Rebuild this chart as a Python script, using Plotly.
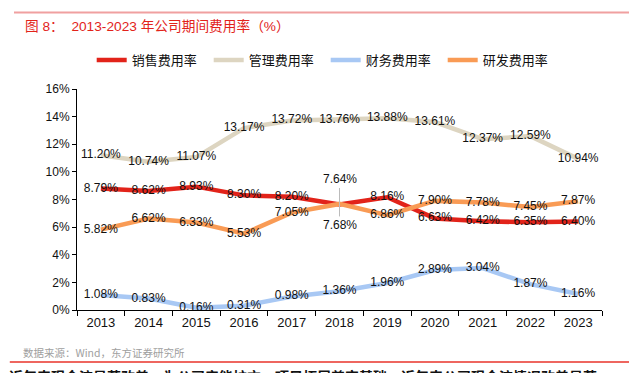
import plotly.graph_objects as go

years = ["2013", "2014", "2015", "2016", "2017", "2018", "2019", "2020", "2021", "2022", "2023"]
sales = [8.79, 8.62, 8.93, 8.30, 8.20, 7.64, 8.16, 6.63, 6.42, 6.35, 6.40]
admin = [11.20, 10.74, 11.07, 13.17, 13.72, 13.76, 13.88, 13.61, 12.37, 12.59, 10.94]
finance = [1.08, 0.83, 0.16, 0.31, 0.98, 1.36, 1.96, 2.89, 3.04, 1.87, 1.16]
rnd = [5.82, 6.62, 6.33, 5.53, 7.05, 7.68, 6.86, 7.90, 7.78, 7.45, 7.87]

names = ["销售费用率", "管理费用率", "财务费用率", "研发费用率"]
colors = ["#E2231A", "#DDD5C1", "#A8C8F4", "#F99B55"]
series = [sales, admin, finance, rnd]

CJK = "Liberation Sans, Noto Sans CJK SC"
fig = go.Figure()

# labels placed with leader lines at the 2018 crossing
special = {0: (5, -25), 3: (5, 21)}

for i, (nm, col, vals) in enumerate(zip(names, colors, series)):
    texts = [f"{v:.2f}%" for v in vals]
    if i in special:
        idx, _ = special[i]
        texts[idx] = ""
    fig.add_trace(go.Scatter(
        x=years, y=vals, name=nm, mode="lines+text",
        line=dict(color=col, width=4.5),
        text=texts, textposition="middle center",
        textfont=dict(size=12, color="#111111", family=CJK),
        cliponaxis=False,
    ))

for i, (idx, ay) in special.items():
    v = series[i][idx]
    fig.add_annotation(
        x=idx, y=v, xref="x", yref="y", text=f"{v:.2f}%", showarrow=True, arrowhead=0,
        arrowwidth=1, arrowcolor="#BBBBBB", ax=0, ay=ay, standoff=0,
        font=dict(size=12, color="#111111", family=CJK),
    )

# the page body adds an 8px offset; margins compensate so the plot sits at x=77..602, y=89..310
PH = 221.0
def py(pix):
    return (310.0 - pix) / PH

fig.update_layout(
    width=637, height=373,
    margin=dict(l=69, r=43, t=81, b=71, autoexpand=False),
    paper_bgcolor="white", plot_bgcolor="white",
    font=dict(family=CJK, size=12, color="#111111"),
    showlegend=True,
    legend=dict(
        orientation="h", x=0.028, xanchor="left", y=py(60), yanchor="middle",
        font=dict(size=13, family="Noto Sans CJK SC", color="#111111"),
        entrywidth=72, entrywidthmode="pixels", itemwidth=30,
        bgcolor="rgba(0,0,0,0)", traceorder="normal",
    ),
    xaxis=dict(
        type="category", range=[-0.5, 10.5], showgrid=False,
        showline=True, linecolor="#000000", linewidth=1,
        ticks="outside", ticklen=5, tickcolor="#000000", tickson="boundaries",
        tickfont=dict(size=13, family="Liberation Sans", color="#111111"),
        fixedrange=True,
    ),
    yaxis=dict(
        range=[0, 16], dtick=2, tickformat="d", ticksuffix="%", showgrid=False,
        showline=True, linecolor="#000000", linewidth=1, zeroline=False,
        ticks="outside", ticklen=4, tickcolor="#000000",
        tickfont=dict(size=12, family="Liberation Sans", color="#111111"),
        fixedrange=True,
    ),
    shapes=[
        dict(type="line", xref="paper", yref="paper", x0=-0.12, x1=1.07,
             y0=py(12.5), y1=py(12.5),
             line=dict(color="#F0A0A0", width=2)),
        dict(type="line", xref="paper", yref="paper", x0=-0.128, x1=1.053,
             y0=py(362), y1=py(362),
             line=dict(color="#E8332A", width=1.5)),
    ],
)

fig.add_annotation(
    xref="paper", yref="paper", x=-0.103, y=py(26), xanchor="left", yanchor="middle",
    text="图 8：  2013-2023 年公司期间费用率（%）", showarrow=False,
    font=dict(size=13.7, color="#E2231A", family="Liberation Sans, Noto Sans CJK SC"),
)
fig.add_annotation(
    xref="paper", yref="paper", x=-0.107, y=py(352), xanchor="left", yanchor="middle",
    text="数据来源：Wind，东方证券研究所", showarrow=False,
    font=dict(size=10.5, color="#A0A0A0", family="Noto Sans CJK SC"),
)
fig.add_annotation(
    xref="paper", yref="paper", x=-0.133, y=py(376), xanchor="left", yanchor="middle",
    text="<b>近年来现金流显著改善，为公司产能扩充、项目拓展奠定基础，近年来公司现金流情况改善显著</b>",
    showarrow=False,
    font=dict(size=14, color="#111111", family="Noto Sans CJK SC"),
)

fig.write_html("out.html")
